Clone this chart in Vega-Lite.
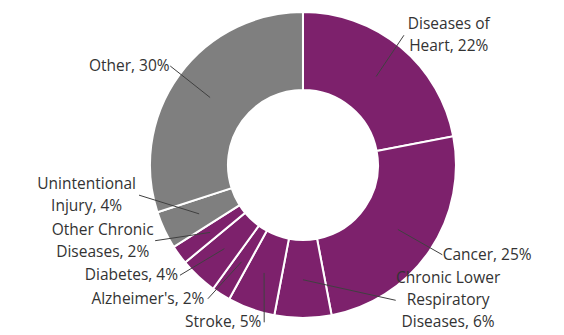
{
  "$schema": "https://vega.github.io/schema/vega-lite/v6.json",
  "width": 564,
  "height": 335,
  "autosize": {"type": "none"},
  "padding": 0,
  "background": "white",
  "config": {"view": {"stroke": null}},
  "data": {
    "values": [
      {"cause": "Diseases of Heart", "label": "Diseases of\nHeart, 22%", "pct": 22, "group": "Chronic disease"},
      {"cause": "Cancer", "label": "Cancer, 25%", "pct": 25, "group": "Chronic disease"},
      {"cause": "Chronic Lower Respiratory Diseases", "label": "Chronic Lower\nRespiratory\nDiseases, 6%", "pct": 6, "group": "Chronic disease"},
      {"cause": "Stroke", "label": "Stroke, 5%", "pct": 5, "group": "Chronic disease"},
      {"cause": "Alzheimer's", "label": "Alzheimer's, 2%", "pct": 2, "group": "Chronic disease"},
      {"cause": "Diabetes", "label": "Diabetes, 4%", "pct": 4, "group": "Chronic disease"},
      {"cause": "Other Chronic Diseases", "label": "Other Chronic\nDiseases, 2%", "pct": 2, "group": "Chronic disease"},
      {"cause": "Unintentional Injury", "label": "Unintentional\nInjury, 4%", "pct": 4, "group": "Other"},
      {"cause": "Other", "label": "Other, 30%", "pct": 30, "group": "Other"}
    ]
  },
  "transform": [
    {"window": [{"op": "row_number", "as": "order"}]},
    {"window": [{"op": "sum", "field": "pct", "as": "cum"}], "sort": [{"field": "order"}], "frame": [null, 0]},
    {"calculate": "(datum.cum - datum.pct / 2) / 100 * 2 * PI", "as": "mid"},
    {"calculate": "sin(datum.mid) >= 0 ? 1 : -1", "as": "side"},
    {"calculate": "split(datum.label, '\\n')", "as": "lines"},
    {"calculate": "length(datum.lines) * 0.1438", "as": "h"},
    {"calculate": "max(length(datum.lines[0]), length(datum.lines[1] || ''), length(datum.lines[2] || '')) * 0.0248", "as": "halfw"},
    {"calculate": "min(max(1.1 * cos(datum.mid), -1.10 + datum.h / 2), 1.07 - datum.h / 2)", "as": "ynat"},
    {"window": [{"op": "lag", "field": "h", "as": "hprev"}], "groupby": ["side"], "sort": [{"field": "ynat"}]},
    {"calculate": "datum.hprev == null ? 0 : (datum.hprev + datum.h) / 2 + 0.01", "as": "g"},
    {"window": [{"op": "sum", "field": "g", "as": "s"}], "groupby": ["side"], "sort": [{"field": "ynat"}], "frame": [null, 0]},
    {"calculate": "datum.ynat - datum.s", "as": "z"},
    {"window": [{"op": "max", "field": "z", "as": "zmax"}], "groupby": ["side"], "sort": [{"field": "ynat"}], "frame": [null, 0]},
    {"calculate": "datum.zmax + datum.s", "as": "ly"},
    {"calculate": "datum.ly + (length(datum.lines) - 1) / 2 * 0.1438", "as": "ty"},
    {"calculate": "sqrt(max(1.1025 - datum.ly * datum.ly, 0))", "as": "xedge"},
    {"calculate": "datum.side * (datum.xedge + 0.04)", "as": "ax"},
    {"calculate": "datum.side * (datum.xedge + 0.06 + datum.halfw)", "as": "lx"},
    {"calculate": "0.75 * sin(datum.mid)", "as": "sx"},
    {"calculate": "0.75 * cos(datum.mid)", "as": "sy"}
  ],
  "layer": [
    {
      "mark": {"type": "arc", "innerRadius": 75, "outerRadius": 153, "stroke": "white", "strokeWidth": 2},
      "encoding": {
        "x": {"datum": 0, "type": "quantitative", "scale": {"domain": [-1.98, 1.706], "nice": false, "zero": false}, "axis": null},
        "y": {"datum": 0, "type": "quantitative", "scale": {"domain": [-1.111, 1.078], "nice": false, "zero": false}, "axis": null},
        "theta": {"field": "pct", "type": "quantitative", "stack": true},
        "order": {"field": "order", "type": "quantitative"},
        "color": {"field": "group", "type": "nominal", "scale": {"domain": ["Chronic disease", "Other"], "range": ["#7D216C", "#7F7F7F"]}, "legend": null}
      }
    },
    {
      "mark": {"type": "rule", "color": "#404040", "strokeWidth": 1},
      "encoding": {
        "x": {"field": "sx", "type": "quantitative", "axis": null},
        "y": {"field": "sy", "type": "quantitative", "axis": null},
        "x2": {"field": "ax"},
        "y2": {"field": "ly"}
      }
    },
    {
      "mark": {"type": "text", "align": "center", "baseline": "middle", "lineBreak": "\n", "font": "Open Sans", "fontSize": 15.5, "lineHeight": 22, "color": "#333333"},
      "encoding": {
        "x": {"field": "lx", "type": "quantitative", "axis": null},
        "y": {"field": "ty", "type": "quantitative", "axis": null},
        "text": {"field": "label"}
      }
    }
  ]
}
